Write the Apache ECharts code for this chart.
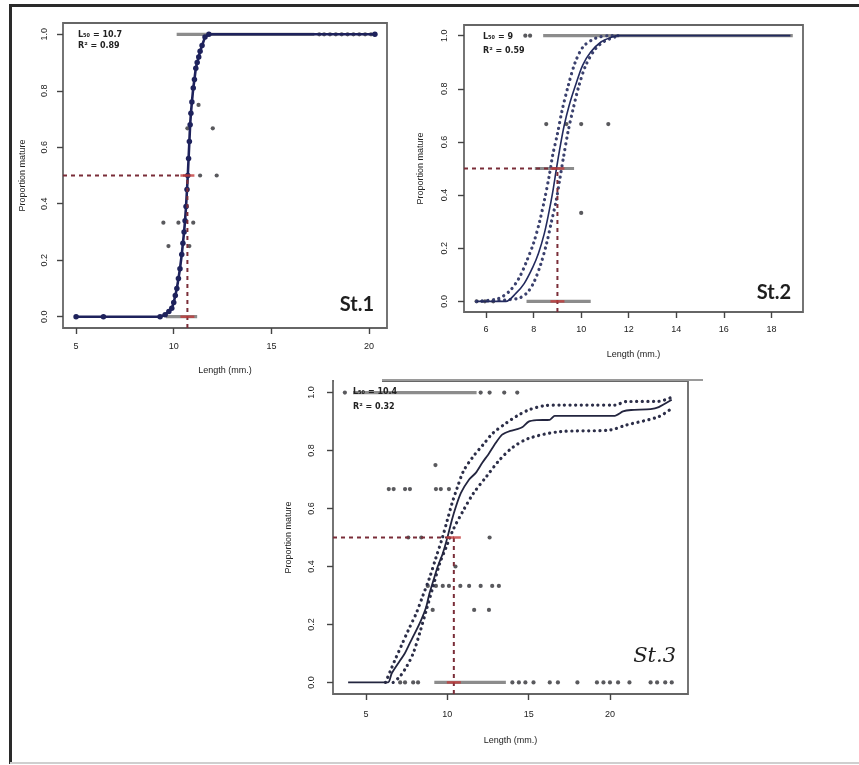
<!DOCTYPE html>
<html><head><meta charset="utf-8">
<script src="https://cdn.jsdelivr.net/npm/echarts@6/dist/echarts.min.js"></script>
<style>html,body{margin:0;padding:0;background:#fff}#c{width:859px;height:765px}</style>
</head><body><div id="c"></div>
<script>
// ================= DATA =================
const yTicks  = [0, 0.2, 0.4, 0.6, 0.8, 1.0];
const xTicks1 = [5, 10, 15, 20];
const xTicks2 = [6, 8, 10, 12, 14, 16, 18];
const xTicks3 = [5, 10, 15, 20];

const panelNames = ['St.1', 'St.2', 'St.3'];
const l50Values = [10.7, 9, 10.4];
const r2Values  = ['0.89', '0.59', '0.32'];

// ---- St.1 ----
const fit1X = [5, 6.4, 9.3, 9.56, 9.75, 9.9, 10.0, 10.08, 10.16, 10.24, 10.32, 10.41, 10.47, 10.53, 10.58, 10.63, 10.68, 10.72, 10.76, 10.8, 10.84, 10.88, 10.93, 11.0, 11.06, 11.13, 11.2, 11.28, 11.35, 11.45, 11.6, 11.8, 20.3];
const fit1Y = [0, 0, 0, 0.007, 0.018, 0.03, 0.05, 0.075, 0.1, 0.135, 0.17, 0.22, 0.26, 0.3, 0.34, 0.39, 0.45, 0.5, 0.56, 0.62, 0.68, 0.72, 0.76, 0.81, 0.84, 0.88, 0.9, 0.92, 0.94, 0.96, 0.99, 1, 1];
const runs1Start = [10.15, 9.6];
const runs1End   = [17.2, 11.2];
const runs1Y     = [1, 0];
const pts1X = [17.45, 17.7, 18.0, 18.3, 18.6, 18.9, 19.2, 19.5, 19.8, 20.1, 20.3, 11.27, 10.7, 12.0, 11.35, 12.2, 9.47, 10.24, 11.0, 9.73, 10.8];
const pts1Y = [1, 1, 1, 1, 1, 1, 1, 1, 1, 1, 1, 0.75, 0.667, 0.667, 0.5, 0.5, 0.333, 0.333, 0.333, 0.25, 0.25];

// ---- St.2 ----
const fit2X = [5.6, 6.83, 7.25, 7.6, 7.97, 8.2, 8.45, 8.63, 8.8, 8.96, 9.12, 9.28, 9.49, 9.75, 10.06, 10.4, 10.83, 11.3, 11.6, 18.8];
const fit2Y = [0, 0, 0.03, 0.067, 0.13, 0.18, 0.256, 0.33, 0.41, 0.5, 0.585, 0.66, 0.736, 0.81, 0.888, 0.938, 0.976, 0.995, 1, 1];
const upper2X = [5.6, 6.5, 7.0, 7.4, 7.7, 8.0, 8.25, 8.45, 8.65, 8.8, 9.0, 9.2, 9.45, 9.75, 10.1, 10.6, 11.2, 11.6];
const upper2Y = [0, 0.01, 0.04, 0.09, 0.15, 0.22, 0.3, 0.38, 0.47, 0.55, 0.63, 0.72, 0.81, 0.9, 0.96, 0.99, 1, 1];
const lower2X = [5.6, 7.3, 7.7, 8.0, 8.3, 8.55, 8.75, 8.95, 9.1, 9.25, 9.45, 9.65, 9.9, 10.2, 10.6, 11.0, 11.6];
const lower2Y = [0, 0.01, 0.03, 0.07, 0.14, 0.22, 0.3, 0.38, 0.46, 0.54, 0.64, 0.72, 0.81, 0.89, 0.95, 0.98, 1];
const runs2Start = [8.4, 7.7, 8.05];
const runs2End   = [18.9, 10.4, 9.7];
const runs2Y     = [1, 0, 0.5];
const pts2X = [7.65, 7.85, 8.53, 9.38, 10.0, 11.14, 10.0, 5.6, 5.95, 6.3];
const pts2Y = [1, 1, 0.667, 0.667, 0.667, 0.667, 0.333, 0, 0, 0];

// ---- St.3 ----
const fit3X = [3.9, 6.36, 6.57, 6.97, 7.38, 7.68, 7.99, 8.39, 8.7, 8.9, 9.15, 9.41, 9.72, 10.02, 10.28, 10.53, 10.83, 11.34, 11.75, 12.15, 12.56, 12.97, 13.37, 13.88, 14.3, 14.6, 15.0, 15.5, 16.3, 16.6, 20.3, 20.8, 21.3, 22.5, 23.0, 23.8];
const fit3Y = [0, 0, 0.03, 0.065, 0.1, 0.134, 0.168, 0.215, 0.26, 0.307, 0.353, 0.4, 0.445, 0.503, 0.56, 0.607, 0.653, 0.7, 0.723, 0.758, 0.79, 0.826, 0.855, 0.868, 0.874, 0.88, 0.9, 0.905, 0.906, 0.92, 0.92, 0.935, 0.94, 0.943, 0.95, 0.975];
const upper3X = [6.2, 6.5, 6.8, 7.2, 7.6, 8.1, 8.5, 8.9, 9.3, 9.7, 10.0, 10.3, 10.6, 11.0, 11.6, 12.2, 12.8, 13.6, 14.3, 15.0, 16.0, 17.0, 19.0, 20.3, 21.0, 23.0, 23.9];
const upper3Y = [0, 0.04, 0.08, 0.13, 0.18, 0.24, 0.3, 0.36, 0.43, 0.5, 0.56, 0.62, 0.67, 0.73, 0.78, 0.82, 0.86, 0.894, 0.92, 0.94, 0.955, 0.957, 0.957, 0.957, 0.969, 0.97, 0.986];
const lower3X = [6.67, 7.08, 7.49, 7.9, 8.3, 8.71, 9.12, 9.53, 9.94, 10.35, 11.0, 11.6, 12.4, 13.2, 14.0, 15.0, 16.9, 20.0, 21.0, 23.0, 23.9];
const lower3Y = [0, 0.02, 0.054, 0.1, 0.17, 0.25, 0.33, 0.41, 0.468, 0.526, 0.595, 0.652, 0.71, 0.767, 0.81, 0.842, 0.865, 0.871, 0.888, 0.917, 0.95];
const runs3Start = [4.2, 9.2];
const runs3End   = [11.8, 13.6];
const runs3Y     = [1, 0];
const pts3X = [3.7, 12.05, 12.6, 13.5, 14.3,
  7.1, 7.4, 7.9, 8.2,
  14.0, 14.4, 14.8, 15.3, 16.3, 16.8, 18.0, 19.2, 19.6, 20.0, 20.5, 21.2, 22.5, 22.9, 23.4, 23.8,
  9.27,
  6.4, 6.7, 7.4, 7.7, 9.3, 9.6, 10.1,
  12.6, 7.6, 8.4,
  10.5,
  8.8, 9.3, 9.72, 10.1, 10.8, 11.34, 12.05, 12.76, 13.17,
  9.1, 11.65, 12.56];
const pts3Y = [1, 1, 1, 1, 1,
  0, 0, 0, 0,
  0, 0, 0, 0, 0, 0, 0, 0, 0, 0, 0, 0, 0, 0, 0, 0,
  0.75,
  0.667, 0.667, 0.667, 0.667, 0.667, 0.667, 0.667,
  0.5, 0.5, 0.5,
  0.4,
  0.333, 0.333, 0.333, 0.333, 0.333, 0.333, 0.333, 0.333, 0.333,
  0.25, 0.25, 0.25];

// ================= BUILD =================
const zip = (xs, ys) => xs.map((x, i) => [x, ys[i]]);
const xRanges = [[4.33, 20.92], [5.07, 19.33], [2.97, 24.8]];
const yRange = [-0.04, 1.04];
const xTickSets = [xTicks1, xTicks2, xTicks3];
const grids = [
  { left: 63, top: 23, width: 324, height: 305 },
  { left: 464, top: 25, width: 339, height: 287 },
  { left: 333, top: 381, width: 355, height: 313 }
];
const xLabelMargin = [14, 13, 16];
const xNameGap = [38, 38, 42];
const yNameGap = [36, 39, 40];
const yLabelMargin = [14, 15, 17];
const FONT = 'Liberation Sans';
const ptColor = '#2f2f35';
const runColor = '#8c8c8c';
const redDash = '#7a2d38';

const xAxes = [], yAxes = [], series = [];
grids.forEach((g, i) => {
  Object.assign(g, { show: true, borderColor: '#666', borderWidth: 1.8, backgroundColor: 'transparent' });
  xAxes.push({
    type: 'value', gridIndex: i, min: xRanges[i][0], max: xRanges[i][1], position: 'bottom',
    name: 'Length (mm.)', nameLocation: 'middle', nameGap: xNameGap[i],
    nameTextStyle: { fontFamily: FONT, fontSize: 9, color: '#222' },
    axisLine: { show: false, onZero: false }, splitLine: { show: false },
    axisTick: { show: true, inside: false, length: 6, customValues: xTickSets[i], lineStyle: { color: '#444', width: 1.4 } },
    axisLabel: { customValues: xTickSets[i], margin: xLabelMargin[i], fontFamily: FONT, fontSize: 9, color: '#222' }
  });
  yAxes.push({
    type: 'value', gridIndex: i, min: yRange[0], max: yRange[1], position: 'left',
    name: 'Proportion mature', nameLocation: 'middle', nameGap: yNameGap[i], nameRotate: 90,
    nameTextStyle: { fontFamily: FONT, fontSize: 9, color: '#222' },
    axisLine: { show: false, onZero: false }, splitLine: { show: false },
    axisTick: { show: true, inside: false, length: 6, customValues: yTicks, lineStyle: { color: '#444', width: 1.4 } },
    axisLabel: { customValues: yTicks, rotate: 90, margin: yLabelMargin[i], fontFamily: FONT, fontSize: 9, color: '#222',
      formatter: v => v.toFixed(1) }
  });
});

function runSeries(idx, starts, ends, ys) {
  starts.forEach((s, k) => {
    series.push({ type: 'line', xAxisIndex: idx, yAxisIndex: idx, showSymbol: false, silent: true,
      data: [[s, ys[k]], [ends[k], ys[k]]], lineStyle: { color: runColor, width: 3.2 }, z: 2 });
  });
}
function ptSeries(idx, xs, ys) {
  series.push({ type: 'scatter', xAxisIndex: idx, yAxisIndex: idx, symbolSize: 4.2, data: zip(xs, ys),
    itemStyle: { color: ptColor }, z: 3 });
}
function l50Series(idx) {
  const L = l50Values[idx];
  series.push({ type: 'line', xAxisIndex: idx, yAxisIndex: idx, showSymbol: false, silent: true,
    data: [[xRanges[idx][0], 0.5], [L, 0.5]], lineStyle: { color: redDash, width: 2, type: [4, 4] }, z: 5 });
  series.push({ type: 'line', xAxisIndex: idx, yAxisIndex: idx, showSymbol: false, silent: true,
    data: [[L, yRange[0]], [L, 0.5]], lineStyle: { color: redDash, width: 2, type: [4, 4] }, z: 5 });
  series.push({ type: 'scatter', xAxisIndex: idx, yAxisIndex: idx, symbol: 'rect', symbolSize: [14, 2.5],
    data: [[L, 0.5], [L, 0]], itemStyle: { color: '#c23b3b', opacity: 0.8 }, z: 6 });
}
function bandSeries(idx, xs, ys, color) {
  series.push({ type: 'line', xAxisIndex: idx, yAxisIndex: idx, showSymbol: false, silent: true, smooth: 0.3,
    data: zip(xs, ys), lineStyle: { color: color, width: 3.2, type: [0.1, 5.5], cap: 'round' }, z: 4 });
}

// St.1
runSeries(0, runs1Start, runs1End, runs1Y);
ptSeries(0, pts1X, pts1Y);
series.push({ type: 'line', xAxisIndex: 0, yAxisIndex: 0, data: zip(fit1X, fit1Y), showSymbol: true, symbol: 'circle',
  symbolSize: 5.5, itemStyle: { color: '#1e225c' }, lineStyle: { color: '#1e225c', width: 2.6 }, z: 4 });
l50Series(0);

// St.2
runSeries(1, runs2Start, runs2End, runs2Y);
ptSeries(1, pts2X, pts2Y);
bandSeries(1, upper2X, upper2Y, '#3b416e');
bandSeries(1, lower2X, lower2Y, '#3b416e');
series.push({ type: 'line', xAxisIndex: 1, yAxisIndex: 1, data: zip(fit2X, fit2Y), showSymbol: false, smooth: 0.3,
  lineStyle: { color: '#222a5e', width: 1.6 }, z: 4 });
l50Series(1);

// St.3
runSeries(2, runs3Start, runs3End, runs3Y);
ptSeries(2, pts3X, pts3Y);
bandSeries(2, upper3X, upper3Y, '#2c2e48');
bandSeries(2, lower3X, lower3Y, '#2c2e48');
series.push({ type: 'line', xAxisIndex: 2, yAxisIndex: 2, data: zip(fit3X, fit3Y), showSymbol: false, smooth: 0.2,
  lineStyle: { color: '#23253f', width: 1.8 }, z: 4 });
l50Series(2);

// annotations
const annPos = [[78, 35, 46], [483, 37, 51], [353, 392, 407]];
const labelPos = [[374, 305], [791, 293], [676, 657]];
const graphic = [
  { type: 'rect', shape: { x: 9, y: 4, width: 850, height: 3 }, style: { fill: '#2a2a2a' }, z: 100 },
  { type: 'rect', shape: { x: 9, y: 4, width: 3, height: 760 }, style: { fill: '#2a2a2a' }, z: 100 },
  { type: 'rect', shape: { x: 10, y: 762, width: 849, height: 2 }, style: { fill: '#cfcfcf' }, z: 100 },
  { type: 'rect', shape: { x: 334, y: 379, width: 48, height: 4 }, style: { fill: '#ffffff' }, z: 100 },
  { type: 'rect', shape: { x: 382, y: 379, width: 321, height: 2 }, style: { fill: '#9a9a9a' }, z: 100 }
];
annPos.forEach((p, i) => {
  graphic.push({ type: 'text', z: 100, style: { x: p[0], y: p[1], text: 'L\u2085\u2080 = ' + l50Values[i],
    font: 'bold 8px "DejaVu Sans"', fill: '#222', textVerticalAlign: 'middle' } });
  graphic.push({ type: 'text', z: 100, style: { x: p[0], y: p[2], text: 'R\u00b2 = ' + r2Values[i],
    font: 'bold 8px "DejaVu Sans"', fill: '#222', textVerticalAlign: 'middle' } });
});
labelPos.forEach((p, i) => {
  graphic.push({ type: 'text', z: 100, style: { x: p[0], y: p[1], text: panelNames[i],
    font: i === 2 ? 'italic 21px "DejaVu Serif"' : 'bold 20px Lato', fill: '#1e1e1e',
    textAlign: 'right', textVerticalAlign: 'middle' } });
});

const chart = echarts.init(document.getElementById('c'), null, { renderer: 'canvas' });
chart.setOption({
  animation: false,
  backgroundColor: '#ffffff',
  grid: grids,
  xAxis: xAxes,
  yAxis: yAxes,
  series: series,
  graphic: graphic
});
</script>
</body></html>
